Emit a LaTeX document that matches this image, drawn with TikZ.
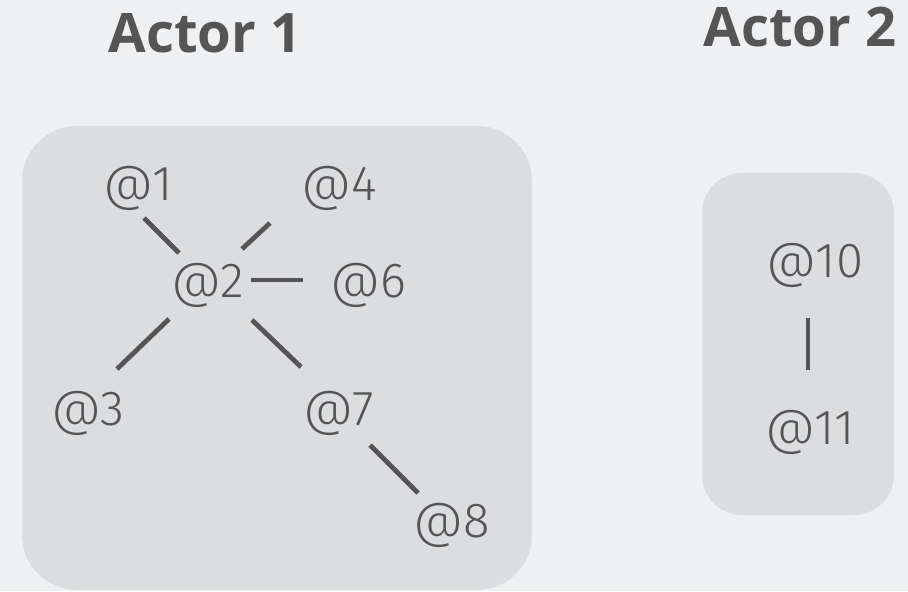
\documentclass[tikz,border=0pt]{standalone}
\usepackage{fontspec}
\newfontfamily\handlefont{Fira Sans Light}
\newfontfamily\actorfont{Open Sans}
\definecolor{bggray}{HTML}{EFF0F2}
\definecolor{boxgray}{HTML}{DCDDDF}
\definecolor{inkgray}{HTML}{555555}
\pgfdeclarelayer{background}
\pgfsetlayers{background,main}
\tikzstyle{handle}=[text=inkgray, anchor=base, inner sep=0pt,
    font=\handlefont\fontsize{28}{28}\selectfont]
\tikzstyle{actor}=[text=inkgray, anchor=base, inner sep=0pt,
    font=\actorfont\bfseries\fontsize{31}{31}\selectfont]
\tikzstyle{link}=[draw=inkgray, line width=2.7pt]

\begin{document}
\begin{tikzpicture}[x=0.02cm, y=-0.02cm]
  \useasboundingbox (0,0) rectangle (908,591);

  \node at (205,53) (act1)[actor] {Actor 1};
  \node at (800,47) (act2)[actor] {Actor 2};

  % first actor
  \node at (138,200) (a1)[handle] {@1};
  \node at (208,297) (a2)[handle] {@2};
  \node at (88,425) (a3)[handle] {@3};
  \node at (339,200) (a4)[handle] {@4};
  \node at (368,297) (a6)[handle] {@6};
  \node at (339,425) (a7)[handle] {@7};
  \node at (452,537) (a8)[handle] {@8};

  % second actor
  \node at (815,277) (a10)[handle] {@10};
  \node at (810,444) (a11)[handle] {@11};

  \draw[link] ([shift={(6,18)}]a1.base) -- ([shift={(-29,-44)}]a2.base);
  \draw[link] ([shift={(-69,23)}]a4.base) -- ([shift={(34,-48)}]a2.base);
  \draw[link] ([shift={(43,-17)}]a2.base) -- ([shift={(-65,-17)}]a6.base);
  \draw[link] ([shift={(-39,22)}]a2.base) -- ([shift={(29,-56)}]a3.base);
  \draw[link] ([shift={(44,23)}]a2.base) -- ([shift={(-38,-58)}]a7.base);
  \draw[link] ([shift={(31,20)}]a7.base) -- ([shift={(-34,-44)}]a8.base);
  \draw[link] ([shift={(-7,41)}]a10.base) -- ([shift={(-2,-74)}]a11.base);

  \begin{pgfonlayer}{background}
    \fill[bggray] (0,0) rectangle (908,591);
    \path[rounded corners=1.1cm, fill=boxgray] (22,126) rectangle (532,590);
    \path[rounded corners=0.8cm, fill=boxgray] (702,173) rectangle (894,515);
  \end{pgfonlayer}
\end{tikzpicture}
\end{document}
